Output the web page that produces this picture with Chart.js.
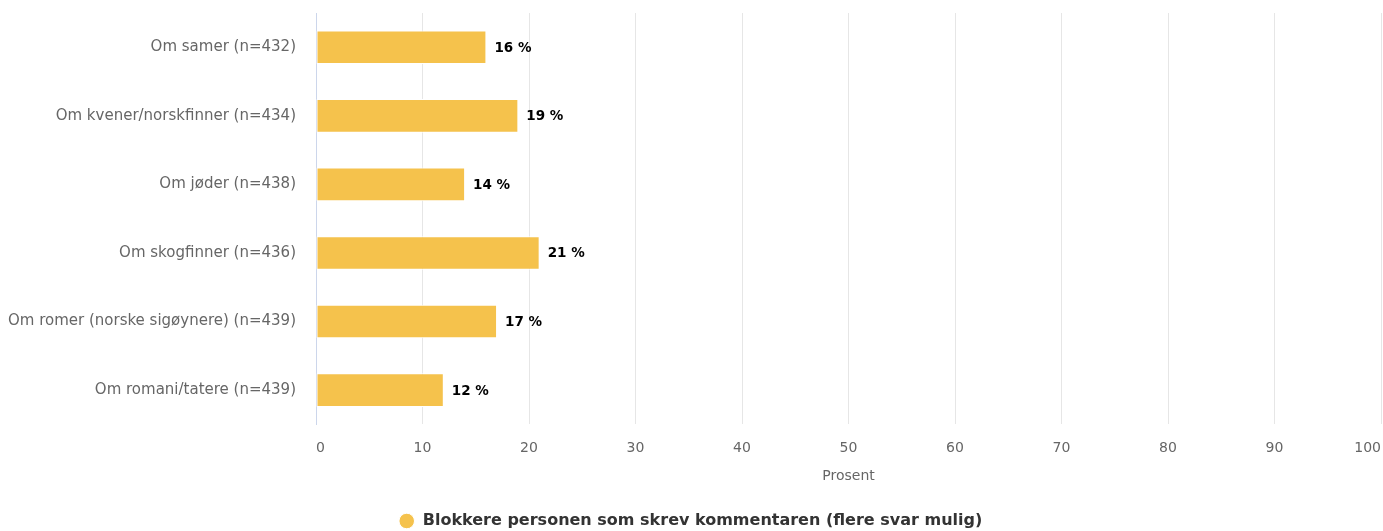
<!DOCTYPE html>
<html lang="no">
<head>
<meta charset="utf-8">
<title>Blokkere personen som skrev kommentaren</title>
<script src="https://cdn.jsdelivr.net/npm/chart.js@4/dist/chart.umd.min.js"></script>
<style>
  html, body { margin: 0; padding: 0; background: #fff; }
  #wrap { width: 1383px; height: 531px; position: relative; }
</style>
</head>
<body>
<div id="wrap"><canvas id="chart"></canvas></div>
<script>
// ----------------------------
// data
// ----------------------------

const categories = [
  "Om samer (n=432)",
  "Om kvener/norskfinner (n=434)",
  "Om jøder (n=438)",
  "Om skogfinner (n=436)",
  "Om romer (norske sigøynere) (n=439)",
  "Om romani/tatere (n=439)"
];

const blokkere = [16, 19, 14, 21, 17, 12];

const seriesName = "Blokkere personen som skrev kommentaren (flere svar mulig)";
const axisTitle = "Prosent";

const xMin = 0;
const xMax = 100;
const xStep = 10;

const FONT = "'DejaVu Sans', Verdana, sans-serif";
const BAR_COLOR = "#f5c24c";

// ----------------------------
// value labels at the end of each bar
// ----------------------------

const valueLabels = {
  id: "valueLabels",
  afterDatasetsDraw(chart) {
    const ctx = chart.ctx;
    ctx.save();
    ctx.font = "bold 13.5px " + FONT;
    ctx.fillStyle = "#000";
    ctx.textAlign = "left";
    ctx.textBaseline = "middle";
    chart.getDatasetMeta(0).data.forEach((bar, i) => {
      const v = chart.data.datasets[0].data[i];
      ctx.fillText(v + " %", bar.x + 8, bar.y + 1);
    });
    ctx.restore();
  }
};

// ----------------------------
// chart
// ----------------------------

// tick spacing is done with invisible tick marks (tickLength) instead of
// ticks.padding, so the scales don't add extra room around the plot
new Chart(document.getElementById("chart"), {
  type: "bar",
  data: {
    labels: categories,
    datasets: [{
      label: seriesName,
      data: blokkere,
      backgroundColor: BAR_COLOR,
      borderColor: "#ffffff",
      borderWidth: 1,
      borderSkipped: false,
      categoryPercentage: 1,
      barPercentage: 0.49
    }]
  },
  options: {
    indexAxis: "y",
    responsive: true,
    maintainAspectRatio: false,
    animation: false,
    layout: { padding: { top: 13, right: 2, bottom: -8, left: 0 } },
    plugins: {
      tooltip: { enabled: false },
      legend: {
        position: "bottom",
        labels: {
          usePointStyle: true,
          pointStyle: "circle",
          boxWidth: 18,
          boxHeight: 11,
          padding: 4,
          color: "#333",
          font: { family: FONT, size: 16, weight: "bold" }
        }
      }
    },
    scales: {
      x: {
        min: xMin,
        max: xMax,
        ticks: {
          stepSize: xStep,
          color: "#666",
          padding: 0,
          align: "inner",
          maxRotation: 0,
          font: { family: FONT, size: 14 }
        },
        grid: {
          color: "#e6e6e6",
          drawTicks: true,
          tickLength: 16,
          tickColor: "rgba(0,0,0,0)"
        },
        border: { display: false },
        title: {
          display: true,
          text: axisTitle,
          color: "#666",
          padding: { top: 11, bottom: 24 },
          font: { family: FONT, size: 14 }
        }
      },
      y: {
        ticks: {
          color: "#666",
          padding: 0,
          font: { family: FONT, size: 15 }
        },
        grid: {
          display: false,
          drawTicks: true,
          tickLength: 20
        },
        border: { display: true, color: "#ccd6eb" },
        afterFit(scale) { scale.width = 316; }
      }
    }
  },
  plugins: [valueLabels]
});
</script>
</body>
</html>
